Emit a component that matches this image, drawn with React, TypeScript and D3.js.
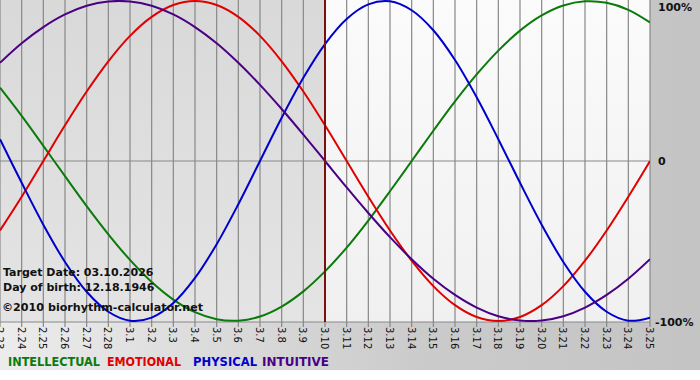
import React from "react";
import * as d3 from "d3";

const days = ["2.23","2.24","2.25","2.26","2.27","2.28","3.1","3.2","3.3","3.4","3.5","3.6","3.7","3.8","3.9","3.10","3.11","3.12","3.13","3.14","3.15","3.16","3.17","3.18","3.19","3.20","3.21","3.22","3.23","3.24","3.25"];

const physical = [0.136,-0.136,-0.398,-0.631,-0.817,-0.942,-0.998,-0.979,-0.888,-0.731,-0.52,-0.27,0,0.27,0.52,0.731,0.888,0.979,0.998,0.942,0.817,0.631,0.398,0.136,-0.136,-0.398,-0.631,-0.817,-0.942,-0.998,-0.979];
const emotional = [-0.434,-0.223,0,0.223,0.434,0.623,0.782,0.901,0.975,1,0.975,0.901,0.782,0.623,0.434,0.223,0,-0.223,-0.434,-0.623,-0.782,-0.901,-0.975,-1,-0.975,-0.901,-0.782,-0.623,-0.434,-0.223,0];
const intellectual = [0.458,0.282,0.095,-0.095,-0.282,-0.458,-0.618,-0.756,-0.866,-0.945,-0.989,-0.998,-0.972,-0.91,-0.815,-0.69,-0.541,-0.372,-0.189,0,0.189,0.372,0.541,0.69,0.815,0.91,0.972,0.998,0.989,0.945,0.866];
const intuitive = [0.614,0.736,0.837,0.916,0.97,0.997,0.997,0.97,0.916,0.837,0.736,0.614,0.476,0.325,0.165,0,-0.165,-0.325,-0.476,-0.614,-0.736,-0.837,-0.916,-0.97,-0.997,-0.997,-0.97,-0.916,-0.837,-0.736,-0.614];

const targetIndex = 15;
const yTicks = [1, 0, -1];
const yTickLabels = ["100%", "0", "-100%"];

const series = [
  { name: "INTELLECTUAL", values: intellectual, color: "#0a7a0a" },
  { name: "EMOTIONAL", values: emotional, color: "#e00000" },
  { name: "PHYSICAL", values: physical, color: "#0000cc" },
  { name: "INTUITIVE", values: intuitive, color: "#4a0085" },
];
const legendX = [8, 107, 193, 262];
const legendW = [92, 74, 64, 67];

const W = 700, H = 380;
const plotW = 650, plotTop = 0, plotBottom = 322;

export default function App() {
  const x = d3.scaleLinear().domain([0, days.length - 1]).range([0, plotW]);
  const y = d3.scaleLinear().domain([-1, 1]).range([plotBottom - 1, plotTop + 1]);
  const line = d3.line<number>().x((_, i) => x(i)).y((d) => y(d)).curve(d3.curveCatmullRom.alpha(0.5));
  const font = "Verdana, 'DejaVu Sans', sans-serif";
  const tx = x(targetIndex);
  return (
    <svg width={W} height={H} style={{ position: "absolute", left: 0, top: 0 }} fontFamily={font}>
      <defs>
        <linearGradient id="outer" x1="0" y1="0" x2="1" y2="0">
          <stop offset="0" stopColor="#ececec" />
          <stop offset="0.6" stopColor="#cbcbcb" />
          <stop offset="1" stopColor="#c4c4c4" />
        </linearGradient>
        <linearGradient id="leftBg" x1="0" y1="0" x2="0" y2="1">
          <stop offset="0" stopColor="#d9d9d9" />
          <stop offset="1" stopColor="#e4e4e4" />
        </linearGradient>
        <linearGradient id="rightBg" x1="0" y1="0" x2="0" y2="1">
          <stop offset="0" stopColor="#fbfbfb" />
          <stop offset="1" stopColor="#f0f0f0" />
        </linearGradient>
        <clipPath id="plotClip">
          <rect x={0} y={plotTop} width={plotW} height={plotBottom - plotTop} />
        </clipPath>
      </defs>
      <rect x={0} y={0} width={W} height={370} fill="url(#outer)" />
      <rect x={0} y={370} width={W} height={10} fill="#ffffff" />
      <rect x={0} y={plotTop} width={tx} height={plotBottom - plotTop} fill="url(#leftBg)" />
      <rect x={tx} y={plotTop} width={plotW - tx} height={plotBottom - plotTop} fill="url(#rightBg)" />
      {days.map((d, i) => (
        <line key={"g" + i} x1={x(i)} x2={x(i)} y1={plotTop} y2={plotBottom + 5} stroke="#888" strokeWidth={1.2} />
      ))}
      <line x1={0} x2={plotW} y1={y(0)} y2={y(0)} stroke="#888" strokeWidth={1.2} />
      <line x1={0} x2={plotW} y1={plotBottom} y2={plotBottom} stroke="#888" strokeWidth={1.2} />
      <g clipPath="url(#plotClip)">
        {series.map((s) => (
          <path key={s.name} d={line(s.values) || ""} fill="none" stroke={s.color} strokeWidth={2} />
        ))}
      </g>
      <line x1={tx} x2={tx} y1={plotTop} y2={plotBottom} stroke="#7a1010" strokeWidth={2} />
      {days.map((d, i) => (
        <text key={"t" + i} transform={`translate(${x(i) - 4},${plotBottom + 5}) rotate(90)`} fontSize={10} fill="#111">
          {d}
        </text>
      ))}
      {yTicks.map((v, i) => (
        <text key={"y" + i} x={i === 2 ? 655 : 658} y={i === 0 ? 11 : i === 1 ? 165 : 326} fontSize={11} fontWeight="bold" fill="#111">
          {yTickLabels[i]}
        </text>
      ))}
      <text x={3} y={276} fontSize={11} fontWeight="bold" fill="#111">Target Date: 03.10.2026</text>
      <text x={3} y={291} fontSize={11} fontWeight="bold" fill="#111">Day of birth: 12.18.1946</text>
      <text x={2} y={311} fontSize={11.2} fontWeight="bold" fill="#111" textLength={201} lengthAdjust="spacingAndGlyphs">©2010 biorhythm-calculator.net</text>
      {series.map((s, i) => (
        <text key={"l" + s.name} x={legendX[i]} y={366} fontSize={11.5} fontWeight="bold" fill={s.color} textLength={legendW[i]} lengthAdjust="spacingAndGlyphs">
          {s.name}
        </text>
      ))}
    </svg>
  );
}
